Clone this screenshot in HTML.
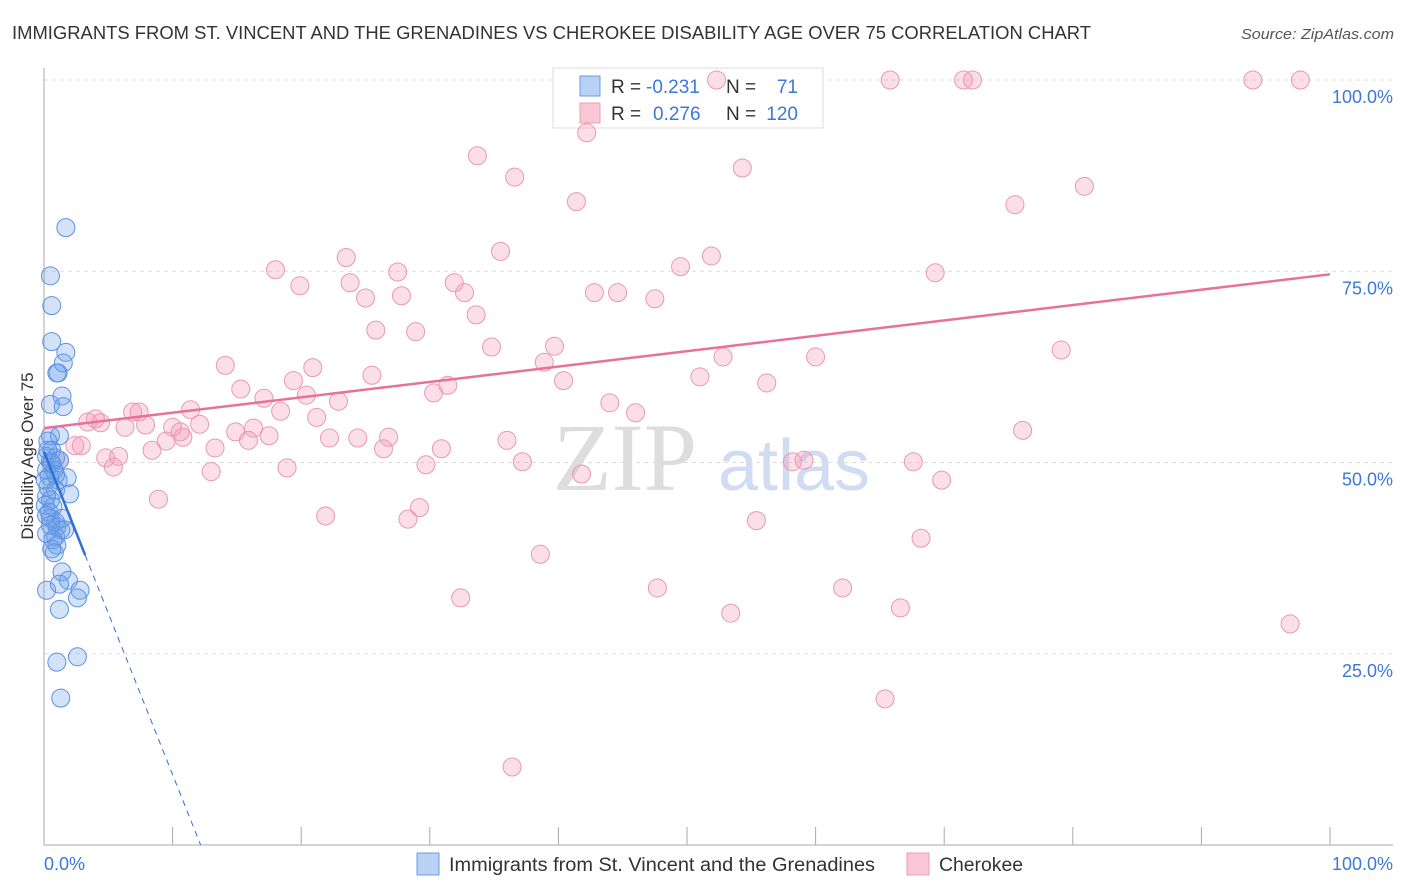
<!DOCTYPE html>
<html><head><meta charset="utf-8"><style>
body{margin:0;background:#fff;font-family:"Liberation Sans",sans-serif;}
svg{display:block}
</style></head><body>
<svg id="chart" width="1406" height="892">
<text x="12" y="39" font-size="18" fill="#333" textLength="1079" lengthAdjust="spacingAndGlyphs">IMMIGRANTS FROM ST. VINCENT AND THE GRENADINES VS CHEROKEE DISABILITY AGE OVER 75 CORRELATION CHART</text>
<text x="1394" y="39" font-size="15" fill="#555" font-style="italic" text-anchor="end" textLength="153" lengthAdjust="spacingAndGlyphs">Source: ZipAtlas.com</text>
<g>
<text x="553" y="490" font-size="96" font-family="Liberation Serif,serif" fill="#ddd">ZIP</text>
<text x="718" y="490" font-size="72" fill="#cfdcf2">atlas</text>
</g>
<g id="grid"></g>
<line x1="44" y1="68" x2="44" y2="845" stroke="#aaa"/>
<line x1="44" y1="845" x2="1393" y2="845" stroke="#aaa"/>
<g id="xticks"></g>
<g id="ylabels"></g>
<text x="44" y="870" font-size="18" fill="#3b78d8">0.0%</text>
<text x="1393" y="870" font-size="18" fill="#3b78d8" text-anchor="end">100.0%</text>
<text transform="translate(33,456) rotate(-90)" font-size="17" fill="#333" text-anchor="middle">Disability Age Over 75</text>
<g>
<rect x="553" y="68" width="270" height="60" fill="#fff" stroke="#ddd"/>
<rect x="580" y="76" width="20" height="20" fill="#b9d1f5" stroke="#6d9be0"/>
<rect x="580" y="103" width="20" height="20" fill="#f9c6d5" stroke="#eaa0b8"/>
<text x="611" y="93" font-size="19" fill="#333">R =</text><text x="646" y="93" font-size="19" fill="#3b78d8">-0.231</text>
<text x="726" y="93" font-size="19" fill="#333">N =</text><text x="798" y="93" font-size="19" fill="#3b78d8" text-anchor="end">71</text>
<text x="611" y="120" font-size="19" fill="#333">R =</text><text x="653" y="120" font-size="19" fill="#3b78d8">0.276</text>
<text x="726" y="120" font-size="19" fill="#333">N =</text><text x="798" y="120" font-size="19" fill="#3b78d8" text-anchor="end">120</text>
</g>
<g id="pink"></g>
<g id="blue"></g>
<g id="trends"></g>
<g>
<rect x="417" y="853" width="22" height="22" fill="#b9d1f5" stroke="#6d9be0"/>
<text x="449" y="871" font-size="19" fill="#333" textLength="426" lengthAdjust="spacingAndGlyphs">Immigrants from St. Vincent and the Grenadines</text>
<rect x="907" y="853" width="22" height="22" fill="#f9c6d5" stroke="#eaa0b8"/>
<text x="939" y="871" font-size="19" fill="#333" textLength="84" lengthAdjust="spacingAndGlyphs">Cherokee</text>
</g>
</svg>
<script>
const yTicks=[25,50,75,100];
const yTickLabels=["25.0%","50.0%","75.0%","100.0%"];
const xTicks=[0,10,20,30,40,50,60,70,80,90,100];
const pinkX=[65.8,71.5,72.2,94.0,97.7,52.3,42.2,33.7,54.3,36.6,41.4,80.9,75.5,35.5,23.5,18.0,27.5,49.5,51.9,69.3,19.9,23.8,31.9,32.7,25.0,27.8,42.8,44.6,47.5,33.6,25.8,28.9,34.8,39.7,14.1,20.9,38.9,52.8,60.0,79.1,25.5,19.4,31.4,40.4,51.0,56.2,15.3,30.3,20.4,17.1,22.9,11.4,6.9,7.4,18.4,21.2,4.0,3.4,4.4,7.9,6.3,12.1,10.0,10.6,10.8,14.9,17.5,16.3,15.9,22.2,24.4,26.8,2.4,2.9,9.5,8.4,13.3,26.4,30.9,36.0,44.0,46.0,76.1,4.8,5.8,5.4,1.2,13.0,18.9,29.7,37.2,58.2,59.1,67.6,41.8,69.8,8.9,21.9,28.3,29.2,55.4,68.2,38.6,32.4,47.7,62.1,53.4,66.6,65.4,96.9,36.4];
const pinkY=[100,100,100,100,100,100,93.1,90.1,88.5,87.3,84.1,86.1,83.7,77.6,76.8,75.2,74.9,75.6,77.0,74.8,73.1,73.5,73.5,72.2,71.5,71.8,72.2,72.2,71.4,69.3,67.3,67.1,65.1,65.2,62.7,62.4,63.1,63.8,63.8,64.7,61.4,60.7,60.1,60.7,61.2,60.4,59.6,59.1,58.8,58.4,58.0,56.9,56.6,56.6,56.7,55.9,55.7,55.3,55.2,54.9,54.6,55.0,54.6,54.0,53.3,54.0,53.5,54.5,52.9,53.2,53.2,53.3,52.2,52.2,52.8,51.6,51.9,51.8,51.8,52.9,57.8,56.5,54.2,50.6,50.8,49.4,50.3,48.8,49.3,49.7,50.1,50.1,50.3,50.1,48.5,47.7,45.2,43.0,42.6,44.1,42.4,40.1,38.0,32.3,33.6,33.6,30.3,31.0,19.1,28.9,10.2];
const blueX=[1.7,0.5,0.6,0.6,1.7,1.5,1.0,1.1,1.4,0.5,1.5,0.5,1.2,0.3,0.6,0.2,0.9,0.5,0.2,0.8,0.4,1.1,1.8,0.3,0.9,2.0,0.2,0.5,0.1,0.7,0.4,0.5,0.9,1.0,1.3,0.2,0.9,0.7,1.0,0.6,0.8,1.4,1.9,0.2,1.2,2.8,2.6,1.2,1.0,2.6,1.3,1.6,0.5,0.2,1.4,0.3,0.6,0.9,0.1,1.2];
const blueY=[80.7,74.4,70.5,65.8,64.4,63.0,61.7,61.7,58.7,57.6,57.3,53.5,53.5,52.8,51.6,50.8,50.6,50.1,49.0,49.0,48.2,47.7,48.0,46.8,46.4,45.9,45.6,45.1,44.4,44.2,43.5,42.7,42.2,41.6,41.2,40.7,40.3,39.9,39.2,38.7,38.2,35.7,34.6,33.3,34.1,33.3,32.3,30.8,23.9,24.6,19.2,41.2,41.8,43.1,42.7,51.6,49.9,48.4,47.7,50.3];
const pinkTrend=[54.5,74.6];
const blueTrend=[51.4,-4.22];
const blueSolidEnd=3.2;
const NS='http://www.w3.org/2000/svg';
const sx=v=>44+v*12.86, sy=v=>845-v*7.65;
function mk(tag,attrs,parent){const e=document.createElementNS(NS,tag);for(const k in attrs)e.setAttribute(k,attrs[k]);parent.appendChild(e);return e;}
const grid=document.getElementById('grid'),yl=document.getElementById('ylabels'),xt=document.getElementById('xticks');
yTicks.forEach((t,i)=>{
 const l=mk('line',{x1:44,x2:1393,y1:sy(t),y2:sy(t),stroke:'#ddd','stroke-dasharray':'4,4'},grid);
 
 
 const tx=mk('text',{x:1393,y:sy(t)+23,'font-size':18,fill:'#3b78d8','text-anchor':'end'},yl);
 tx.textContent=yTickLabels[i];
 
 
});
xTicks.forEach(t=>{
 const l=mk('line',{x1:sx(t),x2:sx(t),y1:827,y2:845,stroke:'#aaa'},xt);
 
 
});
const pg=document.getElementById('pink');
pinkX.forEach((x,i)=>{
 const c=mk('circle',{cx:sx(x),cy:sy(pinkY[i]),r:9,fill:'rgba(244,155,185,0.33)',stroke:'#e898b4','stroke-width':1},pg);
 
 
});
const bg=document.getElementById('blue');
blueX.forEach((x,i)=>{
 const c=mk('circle',{cx:sx(x),cy:sy(blueY[i]),r:9,fill:'rgba(110,160,235,0.3)',stroke:'#5b93e0','stroke-width':1},bg);
 
 
});
const tg=document.getElementById('trends');
const pl=mk('line',{x1:sx(0),y1:sy(pinkTrend[0]),x2:sx(100),y2:sy(pinkTrend[1]),stroke:'#e8709a','stroke-width':2.5},tg);


const by=x=>blueTrend[0]+blueTrend[1]*x;
const bl=mk('line',{x1:sx(0),y1:sy(by(0)),x2:sx(blueSolidEnd),y2:sy(by(blueSolidEnd)),stroke:'#2f6fd6','stroke-width':2.5},tg);


const xEnd=-blueTrend[0]/blueTrend[1];
const bd=mk('line',{x1:sx(blueSolidEnd),y1:sy(by(blueSolidEnd)),x2:sx(xEnd),y2:sy(0),stroke:'#2f6fd6','stroke-width':1,'stroke-dasharray':'6,5'},tg);


</script>
</body></html>
